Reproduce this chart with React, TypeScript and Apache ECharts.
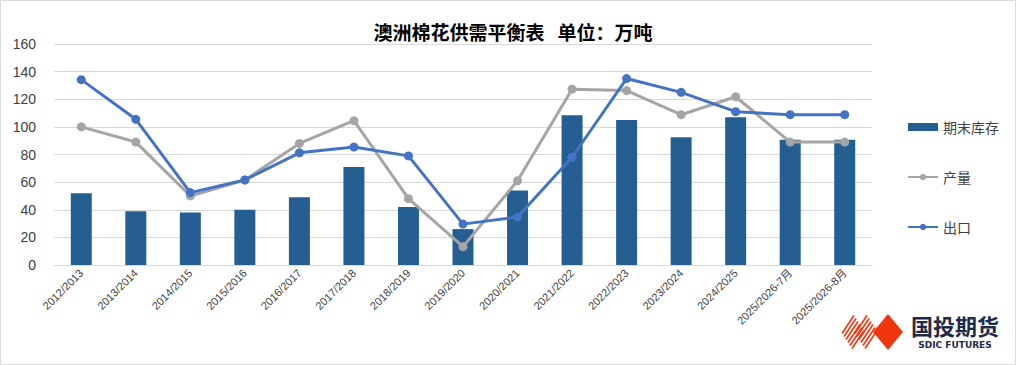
import React, { useEffect, useRef } from "react";
import * as echarts from "echarts";

const categories = [
  "2012/2013", "2013/2014", "2014/2015", "2015/2016", "2016/2017",
  "2017/2018", "2018/2019", "2019/2020", "2020/2021", "2021/2022",
  "2022/2023", "2023/2024", "2024/2025", "2025/2026-7月", "2025/2026-8月",
];
const endingStocks = [52, 39, 38, 40, 49, 71, 42, 26, 54, 108.5, 105, 92.5, 107, 90.6, 90.6];
const production = [100, 89, 50, 61.5, 88, 104.5, 48, 13.3, 61, 127.3, 126.3, 108.8, 121.8, 89, 89];
const exports = [134.2, 105.5, 52.4, 61.6, 81.2, 85.4, 79, 29.6, 34.7, 78, 135, 125, 111, 108.8, 108.8];
const yTicks = { min: 0, max: 160, interval: 20 };

const CJK = '"Noto Sans CJK SC", "Noto Sans", sans-serif';
const LAT = '"Liberation Sans", "Noto Sans CJK SC", sans-serif';
const RED = "#F0360F";

function diamondStripes(cx: number, cy: number, hw: number, hh: number, n: number) {
  const out: any[] = [];
  const L = [cx - hw, cy], T = [cx, cy - hh], R = [cx + hw, cy], B = [cx, cy + hh];
  for (let i = 0; i < n; i++) {
    const t = (i + 0.5) / n;
    out.push({
      type: "line",
      shape: {
        x1: L[0] + t * (B[0] - L[0]), y1: L[1] + t * (B[1] - L[1]),
        x2: T[0] + t * (R[0] - T[0]), y2: T[1] + t * (R[1] - T[1]),
      },
      style: { stroke: RED, lineWidth: 1.6 },
      silent: true,
    });
  }
  return out;
}

export default function App() {
  const ref = useRef<HTMLDivElement>(null);
  useEffect(() => {
    if (!ref.current) return;
    const chart = echarts.init(ref.current, null, { renderer: "svg" });
    chart.setOption({
      animation: false,
      backgroundColor: "#ffffff",
      title: {
        text: "澳洲棉花供需平衡表   单位：万吨",
        left: 508,
        textAlign: "center",
        top: 17,
        textStyle: { fontFamily: CJK, fontSize: 19, fontWeight: "bold", color: "#000000" },
      },
      legend: {
        orient: "vertical",
        left: 902,
        top: 115,
        itemWidth: 30,
        itemHeight: 8,
        itemGap: 36,
        textStyle: { fontFamily: CJK, fontSize: 14, color: "#404040", lineHeight: 14 },
        data: [
          { name: "期末库存", icon: "rect" },
          { name: "产量" },
          { name: "出口" },
        ],
      },
      grid: { left: 54, right: 144, top: 44, bottom: 100 },
      xAxis: {
        type: "category",
        data: categories,
        axisLine: { lineStyle: { color: "#D9D9D9", width: 1 } },
        axisTick: { show: false },
        axisLabel: {
          rotate: 45,
          interval: 0,
          fontFamily: LAT,
          fontSize: 11,
          color: "#404040",
          margin: 6,
        },
      },
      yAxis: {
        type: "value",
        min: yTicks.min,
        max: yTicks.max,
        interval: yTicks.interval,
        axisLine: { show: false },
        axisTick: { show: false },
        splitLine: { lineStyle: { color: "#D9D9D9", width: 1 } },
        axisLabel: { fontFamily: LAT, fontSize: 14, color: "#404040", margin: 18 },
      },
      series: [
        {
          name: "期末库存",
          type: "bar",
          data: endingStocks,
          barWidth: 21,
          itemStyle: { color: "#255E91" },
        },
        {
          name: "产量",
          type: "line",
          data: production,
          symbol: "circle",
          symbolSize: 9,
          lineStyle: { color: "#A5A5A5", width: 3 },
          itemStyle: { color: "#A5A5A5" },
        },
        {
          name: "出口",
          type: "line",
          data: exports,
          symbol: "circle",
          symbolSize: 9,
          lineStyle: { color: "#4472C4", width: 3 },
          itemStyle: { color: "#4472C4" },
        },
      ],
      graphic: [
        {
          type: "rect",
          shape: { x: 0.5, y: 0.5, width: 1015, height: 364 },
          style: { fill: "none", stroke: "#D9D9D9", lineWidth: 1 },
          silent: true,
        },
        ...diamondStripes(853, 332, 12, 18, 6),
        ...diamondStripes(866, 332, 12, 18, 6),
        {
          type: "polygon",
          shape: { points: [[873, 332], [888, 314], [903, 332], [888, 350]] },
          style: { fill: RED },
          silent: true,
        },
        {
          type: "text",
          x: 955,
          y: 325,
          style: {
            text: "国投期货",
            fontFamily: CJK,
            fontSize: 22,
            fontWeight: "bold",
            fill: "#1E2A4A",
            align: "center",
            verticalAlign: "middle",
          },
          silent: true,
        },
        {
          type: "text",
          x: 955,
          y: 345,
          style: {
            text: "SDIC FUTURES",
            fontFamily: '"DejaVu Sans", sans-serif',
            fontSize: 9,
            fontWeight: "bold",
            fill: "#1E2A4A",
            align: "center",
            verticalAlign: "middle",
          },
          silent: true,
        },
      ],
    });
    return () => chart.dispose();
  }, []);
  return (
    <div
      ref={ref}
      style={{ position: "fixed", left: 0, top: 0, width: 1016, height: 365, background: "#fff" }}
    />
  );
}
